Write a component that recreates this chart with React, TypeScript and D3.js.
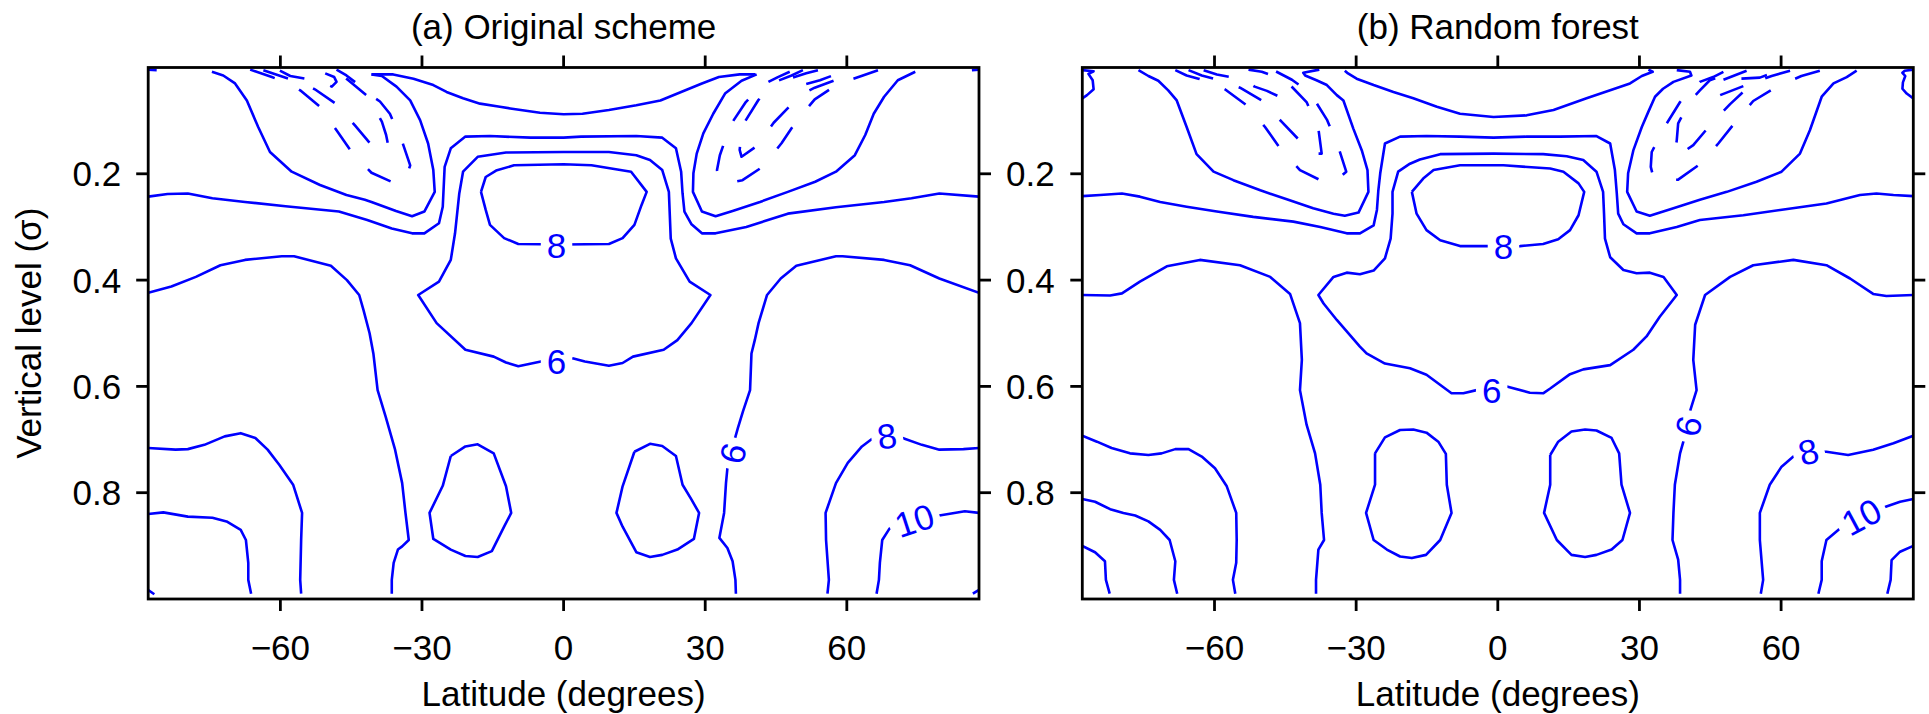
import React from "react";
import * as d3 from "d3";

type Pt = [number, number];
type Contour = { level: number; pts: Pt[] };
type Label = { text: string; lat: number; sigma: number; angle: number };

// Axis definitions
const latDomain: [number, number] = [-88, 88];
const sigmaDomain: [number, number] = [0, 1];
const latTicks = [-60, -30, 0, 30, 60];
const sigmaTicks = [0.2, 0.4, 0.6, 0.8];
const panelTitles = ["(a) Original scheme", "(b) Random forest"];
const xAxisTitle = "Latitude (degrees)";
const yAxisTitle = "Vertical level (\u03c3)";

// Contours of panel (a): [latitude, sigma] vertices; negative levels are dashed
const originalContours: Contour[] = [
  { level: 0, pts: [[-74.5,0.008],[-72.1,0.015],[-69.6,0.030],[-67.1,0.062],[-64.7,0.112],[-62.2,0.159],[-57.6,0.196],[-51.6,0.221],[-46.0,0.240],[-42.1,0.249],[-40.7,0.253],[-35.5,0.270],[-32.1,0.280],[-29.5,0.271],[-27.3,0.234],[-27.6,0.193],[-28.7,0.143],[-30.4,0.099],[-32.5,0.062],[-35.4,0.036],[-38.5,0.016],[-40.7,0.013]] },
  { level: 0, pts: [[40.9,0.013],[37.7,0.025],[34.2,0.049],[31.7,0.087],[29.6,0.124],[28.2,0.162],[27.5,0.199],[27.4,0.234],[29.3,0.271],[32.2,0.280],[35.8,0.270],[41.6,0.253],[47.5,0.234],[53.3,0.215],[57.7,0.196],[61.7,0.165],[63.9,0.127],[65.7,0.087],[67.9,0.055],[70.8,0.024],[74.5,0.008]] },
  { level: 2, pts: [[-40.7,0.013],[-36.1,0.013],[-31.8,0.021],[-27.6,0.033],[-24.8,0.046],[-21.3,0.058],[-17.7,0.068],[-13.5,0.074],[-11.3,0.077],[-5.0,0.085],[0,0.088],[4.0,0.087],[9.6,0.080],[15.4,0.071],[20.5,0.062],[24.9,0.046],[29.3,0.030],[32.9,0.018],[37.3,0.013],[40.6,0.013]] },
  { level: 4, pts: [[-88,0.243],[-83.9,0.238],[-79.6,0.237],[-74.4,0.246],[-67.5,0.253],[-58.9,0.261],[-47.6,0.271],[-41.6,0.287],[-36.4,0.303],[-32.1,0.312],[-29.5,0.312],[-26.4,0.293],[-25.6,0.262],[-25.2,0.187],[-23.9,0.152],[-20.8,0.130],[-15.6,0.129],[-7.0,0.132],[0,0.132],[3.7,0.130],[15.4,0.129],[20.9,0.132],[23.8,0.152],[24.9,0.196],[25.2,0.237],[25.6,0.271],[27.1,0.295],[29.3,0.312],[32.2,0.312],[38.7,0.300],[47.5,0.275],[57.7,0.263],[67.9,0.253],[73.7,0.246],[79.6,0.237],[88,0.243]] },
  { level: 6, pts: [[1.9,0.547],[4.5,0.553],[9.6,0.561],[12.5,0.556],[14.7,0.544],[21.2,0.531],[24.1,0.513],[27.1,0.481],[31.1,0.428],[26.7,0.403],[23.8,0.359],[22.7,0.322],[22.3,0.234],[20.9,0.193],[18.3,0.174],[15.4,0.165],[9.6,0.159],[0,0.159],[-12.2,0.160],[-18.2,0.168],[-21.3,0.196],[-22.1,0.237],[-23.0,0.312],[-23.9,0.362],[-26.4,0.403],[-30.8,0.428],[-26.9,0.481],[-20.8,0.531],[-14.8,0.544],[-12.2,0.555],[-9.6,0.562],[-4.8,0.553],[1.9,0.547]] },
  { level: 8, pts: [[-17.5,0.234],[-16.5,0.206],[-14.3,0.194],[-10.5,0.184],[0,0.182],[5.9,0.184],[14.3,0.196],[17.6,0.234],[16.5,0.259],[15.0,0.296],[12.5,0.321],[9.6,0.332],[0,0.333],[-9.6,0.332],[-12.6,0.321],[-15.6,0.296],[-16.5,0.268],[-17.5,0.234]] },
  { level: 6, pts: [[-88,0.424],[-83.1,0.412],[-77.9,0.394],[-72.7,0.372],[-67.5,0.362],[-59.7,0.355],[-57.1,0.355],[-49.3,0.373],[-45.9,0.400],[-43.3,0.428],[-42.4,0.456],[-41.1,0.500],[-40.3,0.538],[-39.4,0.607],[-37.7,0.657],[-35.7,0.719],[-34.2,0.782],[-33.5,0.838],[-32.8,0.889],[-34.2,0.901],[-35.1,0.907],[-36.0,0.932],[-36.4,0.964],[-36.4,0.990]] },
  { level: 6, pts: [[88,0.424],[79.6,0.397],[73.4,0.372],[67.9,0.362],[59.1,0.355],[57.7,0.355],[49.3,0.373],[46.0,0.397],[43.1,0.428],[41.3,0.481],[40.5,0.513],[39.8,0.538],[39.5,0.607],[38.0,0.647],[36.9,0.679],[36.2,0.701],[35.8,0.726],[34.7,0.754],[34.4,0.782],[34.0,0.838],[33.0,0.885],[34.7,0.904],[35.8,0.929],[36.4,0.964],[36.5,0.990]] },
  { level: 4, pts: [[-23.9,0.731],[-20.8,0.713],[-18.2,0.709],[-14.8,0.726],[-12.2,0.788],[-11.1,0.838],[-12.6,0.864],[-15.2,0.910],[-18.2,0.921],[-20.8,0.919],[-23.9,0.907],[-27.6,0.887],[-28.4,0.838],[-25.6,0.787],[-23.9,0.731]] },
  { level: 4, pts: [[15.0,0.723],[18.3,0.708],[20.9,0.712],[23.8,0.731],[25.2,0.785],[27.1,0.813],[28.7,0.838],[27.6,0.887],[24.1,0.907],[20.9,0.917],[18.3,0.921],[15.4,0.912],[12.5,0.864],[11.2,0.838],[12.5,0.788],[15.0,0.723]] },
  { level: 8, pts: [[-88,0.716],[-82.2,0.719],[-79.6,0.718],[-76.1,0.710],[-71.8,0.694],[-68.4,0.688],[-65.3,0.697],[-62.7,0.719],[-60.2,0.748],[-57.3,0.785],[-55.4,0.838],[-55.6,0.889],[-55.8,0.964],[-55.6,0.990]] },
  { level: 8, pts: [[88,0.716],[84.7,0.718],[79.6,0.719],[75.9,0.710],[71.5,0.696],[68.5,0.693],[65.3,0.699],[63.2,0.713],[60.2,0.744],[57.7,0.782],[55.5,0.838],[55.6,0.889],[56.2,0.964],[55.9,0.990]] },
  { level: 10, pts: [[-88,0.840],[-84.8,0.837],[-79.6,0.845],[-74.4,0.847],[-71.4,0.854],[-68.4,0.870],[-67.3,0.889],[-66.8,0.932],[-66.8,0.964],[-66.2,0.990]] },
  { level: 10, pts: [[88,0.838],[85.0,0.835],[79.6,0.843],[74.3,0.852],[69.0,0.868],[67.5,0.889],[67.0,0.932],[66.8,0.964],[66.3,0.990]] },
  { level: 12, pts: [[-88,0.983],[-86.7,0.991]] },
  { level: 12, pts: [[86.7,0.990],[88,0.983]] },
  { level: 2, pts: [[-88,0.004],[-86.2,0.005]] },
  { level: 2, pts: [[86.5,0.005],[88,0.004]] },
  { level: -2, pts: [[-66.4,0.004],[-61.5,0.019],[-57.9,0.031],[-55.8,0.043],[-51.6,0.074],[-48.1,0.118],[-44.9,0.159],[-42.8,0.179],[-40.7,0.198],[-35.7,0.218],[-33.3,0.206],[-32.5,0.184],[-34.3,0.137],[-35.7,0.109],[-36.8,0.087],[-38.9,0.064],[-41.4,0.049],[-43.8,0.030],[-46.0,0.015],[-48.1,0.004]] },
  { level: -4, pts: [[-63.6,0.005],[-58.3,0.021],[-54.8,0.031],[-52.7,0.041],[-48.1,0.069],[-44.2,0.109],[-40.7,0.146],[-38.9,0.157],[-37.1,0.149],[-37.6,0.127],[-38.5,0.102],[-41.4,0.055],[-45.6,0.024],[-47.4,0.011]] },
  { level: -6, pts: [[-60.1,0.006],[-57.9,0.016],[-54.8,0.021],[-51.6,0.026],[-49.1,0.036],[-48.1,0.027],[-48.6,0.018],[-50.5,0.011]] },
  { level: -2, pts: [[66.6,0.005],[63.4,0.015],[60.5,0.024],[57.8,0.033],[53.2,0.060],[49.3,0.101],[46.2,0.142],[42.3,0.186],[37.9,0.212],[34.9,0.217],[32.7,0.206],[32.5,0.193],[33.1,0.165],[34.2,0.137],[35.6,0.105],[38.6,0.065],[40.9,0.044],[43.0,0.029],[45.4,0.018],[47.9,0.008]] },
  { level: -4, pts: [[50.7,0.005],[48.3,0.015],[45.4,0.025],[43.3,0.040],[41.2,0.062],[38.4,0.102],[37.5,0.137],[37.3,0.155],[37.7,0.168],[40.9,0.148],[42.6,0.127],[44.5,0.104],[48.4,0.068],[51.4,0.046],[53.2,0.038],[57.8,0.023]] },
  { level: -6, pts: [[48.6,0.019],[51.4,0.011],[53.9,0.005]] },
  { level: -6, pts: [[51.4,0.031],[54.3,0.024],[56.7,0.016]] },
];

const originalLabels: Label[] = [
  { text: "8", lat: -1.5, sigma: 0.334, angle: 0 },
  { text: "6", lat: -1.5, sigma: 0.553, angle: 0 },
  { text: "6", lat: 35.8, sigma: 0.726, angle: -75 },
  { text: "8", lat: 68.5, sigma: 0.693, angle: -8 },
  { text: "10", lat: 74.3, sigma: 0.852, angle: -18 },
];

// Contours of panel (b)
const forestContours: Contour[] = [
  { level: 0, pts: [[-76.1,0.005],[-74.0,0.016],[-71.9,0.025],[-69.8,0.043],[-68.0,0.062],[-65.9,0.112],[-63.8,0.163],[-60.2,0.196],[-56.0,0.212],[-50.3,0.231],[-44.7,0.248],[-39.1,0.265],[-34.8,0.275],[-32.4,0.279],[-29.5,0.273],[-27.4,0.234],[-27.6,0.193],[-28.8,0.156],[-30.6,0.115],[-32.7,0.062],[-34.1,0.052],[-36.2,0.033],[-38.4,0.024],[-40.8,0.015],[-41.2,0.010],[-37.8,0.004]] },
  { level: 0, pts: [[37.9,0.005],[40.7,0.008],[41.0,0.015],[37.2,0.027],[35.0,0.040],[33.3,0.055],[31.9,0.083],[30.5,0.112],[28.7,0.156],[27.6,0.199],[27.4,0.234],[29.4,0.271],[32.2,0.279],[37.2,0.265],[42.8,0.249],[48.5,0.234],[54.8,0.215],[60.1,0.196],[64.0,0.162],[66.1,0.118],[68.6,0.055],[71.1,0.030],[73.9,0.018],[76.0,0.006]] },
  { level: 2, pts: [[-32.4,0.006],[-31.9,0.010],[-29.9,0.021],[-26.3,0.033],[-22.1,0.046],[-17.9,0.058],[-12.9,0.074],[-8.0,0.087],[-0.9,0.093],[6.1,0.090],[11.8,0.080],[18.8,0.058],[23.8,0.043],[28.0,0.030],[30.5,0.016],[32.8,0.008],[31.9,0.004]] },
  { level: 4, pts: [[-88,0.242],[-84.2,0.240],[-79.6,0.237],[-75.8,0.243],[-71.5,0.253],[-65.9,0.262],[-59.5,0.271],[-51.8,0.281],[-43.3,0.290],[-37.6,0.300],[-32.0,0.312],[-29.2,0.312],[-26.3,0.297],[-25.6,0.268],[-25.3,0.231],[-24.9,0.199],[-23.9,0.143],[-20.7,0.130],[-15.1,0.129],[-8.0,0.130],[-0.9,0.132],[6.1,0.130],[13.2,0.130],[20.9,0.129],[23.8,0.143],[24.8,0.193],[25.2,0.237],[25.5,0.275],[26.6,0.295],[29.4,0.312],[32.2,0.312],[37.9,0.300],[42.8,0.287],[52.0,0.278],[59.8,0.268],[69.6,0.256],[76.7,0.240],[80.2,0.237],[83.8,0.240],[88,0.242]] },
  { level: 8, pts: [[-18.2,0.234],[-17.2,0.275],[-15.1,0.306],[-12.2,0.325],[-8.0,0.336],[-1.6,0.336],[1.2,0.337],[4.7,0.336],[9.6,0.332],[12.8,0.323],[15.3,0.306],[17.1,0.278],[18.3,0.234],[17.1,0.218],[13.9,0.196],[11.1,0.190],[1.2,0.184],[-8.0,0.184],[-13.6,0.193],[-15.8,0.209],[-18.2,0.234]] },
  { level: 6, pts: [[1.9,0.600],[6.8,0.612],[9.6,0.613],[11.1,0.604],[15.3,0.577],[18.1,0.568],[23.8,0.560],[28.7,0.531],[31.5,0.506],[34.3,0.469],[37.9,0.428],[35.1,0.394],[32.2,0.386],[29.4,0.387],[26.6,0.381],[23.8,0.357],[22.7,0.322],[22.5,0.275],[22.3,0.234],[20.9,0.196],[18.1,0.174],[14.6,0.167],[9.6,0.163],[-0.9,0.162],[-12.2,0.163],[-16.5,0.173],[-18.6,0.181],[-21.1,0.196],[-22.3,0.234],[-22.3,0.275],[-22.7,0.322],[-23.9,0.359],[-26.3,0.382],[-29.2,0.389],[-32.0,0.386],[-34.8,0.394],[-38.0,0.428],[-36.9,0.444],[-34.1,0.475],[-29.2,0.525],[-27.8,0.538],[-23.9,0.557],[-18.6,0.566],[-15.1,0.578],[-9.8,0.613],[-7.3,0.613],[-4.5,0.607],[1.9,0.600]] },
  { level: 6, pts: [[-88,0.428],[-82.1,0.429],[-79.6,0.425],[-75.8,0.403],[-70.1,0.374],[-63.1,0.362],[-54.6,0.372],[-48.2,0.394],[-44.0,0.426],[-41.9,0.481],[-41.5,0.550],[-41.9,0.607],[-40.5,0.672],[-38.7,0.726],[-37.6,0.785],[-37.3,0.838],[-36.8,0.889],[-38.0,0.907],[-38.5,0.964],[-38.5,0.990]] },
  { level: 6, pts: [[88,0.428],[82.3,0.430],[79.5,0.426],[74.6,0.397],[69.6,0.372],[62.6,0.362],[54.1,0.372],[49.2,0.394],[43.9,0.428],[41.8,0.484],[41.4,0.550],[42.1,0.607],[40.7,0.647],[40.3,0.676],[39.3,0.704],[38.6,0.726],[37.5,0.785],[37.2,0.838],[37.0,0.889],[38.2,0.926],[38.6,0.964],[38.6,0.990]] },
  { level: 4, pts: [[-26.0,0.726],[-23.9,0.696],[-20.7,0.682],[-17.9,0.681],[-15.1,0.687],[-12.6,0.704],[-11.0,0.727],[-10.8,0.785],[-9.8,0.838],[-12.2,0.889],[-15.2,0.917],[-18.2,0.923],[-20.7,0.920],[-23.5,0.907],[-26.3,0.889],[-27.9,0.838],[-26.0,0.785],[-26.0,0.726]] },
  { level: 4, pts: [[11.1,0.729],[12.8,0.704],[15.6,0.685],[18.5,0.681],[20.9,0.683],[24.1,0.697],[25.7,0.726],[26.2,0.785],[28.0,0.838],[26.4,0.889],[24.1,0.907],[20.9,0.917],[18.5,0.921],[15.6,0.917],[12.5,0.889],[9.8,0.838],[11.1,0.785],[11.1,0.729]] },
  { level: 8, pts: [[-88,0.693],[-84.9,0.704],[-81.8,0.716],[-77.9,0.726],[-74.0,0.729],[-71.2,0.726],[-68.3,0.718],[-65.5,0.718],[-62.7,0.732],[-59.9,0.754],[-57.4,0.788],[-55.4,0.838],[-55.3,0.889],[-55.4,0.932],[-56.1,0.964],[-55.6,0.990]] },
  { level: 8, pts: [[88,0.693],[83.8,0.707],[79.5,0.719],[74.2,0.729],[69.6,0.723],[65.8,0.723],[62.6,0.732],[60.1,0.751],[57.6,0.785],[55.5,0.838],[55.5,0.889],[56.2,0.964],[55.7,0.990]] },
  { level: 10, pts: [[-88,0.812],[-85.3,0.817],[-82.1,0.831],[-79.3,0.838],[-76.8,0.843],[-74.0,0.854],[-71.5,0.870],[-69.5,0.889],[-68.3,0.929],[-68.6,0.964],[-67.9,0.990]] },
  { level: 10, pts: [[88,0.812],[85.2,0.817],[82.3,0.826],[77.0,0.845],[72.1,0.870],[69.6,0.889],[68.6,0.929],[68.6,0.964],[67.9,0.990]] },
  { level: 12, pts: [[-88,0.900],[-85.3,0.912],[-83.2,0.929],[-83.0,0.964],[-82.2,0.990]] },
  { level: 12, pts: [[88,0.900],[85.2,0.911],[83.4,0.927],[83.2,0.964],[82.5,0.990]] },
  { level: 2, pts: [[-88,0.005],[-85.6,0.007],[-86.7,0.012],[-85.8,0.024],[-85.6,0.041],[-87.0,0.052],[-88,0.058]] },
  { level: 2, pts: [[88,0.004],[86.2,0.006],[85.7,0.010],[86.3,0.016],[85.8,0.028],[85.7,0.040],[86.6,0.049],[88,0.058]] },
  { level: -2, pts: [[-68.3,0.005],[-65.9,0.015],[-63.4,0.021],[-60.2,0.030],[-57.8,0.041],[-53.2,0.071],[-49.3,0.112],[-46.1,0.152],[-41.9,0.193],[-36.9,0.215],[-34.1,0.212],[-32.1,0.196],[-33.8,0.149],[-36.2,0.098],[-39.1,0.057],[-40.5,0.043],[-43.6,0.023],[-47.5,0.005]] },
  { level: -4, pts: [[-65.5,0.005],[-62.7,0.015],[-60.2,0.021],[-54.6,0.038],[-50.0,0.062],[-45.8,0.102],[-41.9,0.138],[-39.1,0.162],[-37.3,0.162],[-38.0,0.115],[-40.5,0.065],[-44.3,0.030],[-46.8,0.018],[-50.0,0.008],[-52.8,0.004]] },
  { level: -6, pts: [[-62.3,0.005],[-59.5,0.013],[-56.7,0.018],[-54.0,0.021],[-51.5,0.036],[-48.9,0.044],[-46.5,0.054]] },
  { level: -2, pts: [[68.2,0.006],[64.3,0.016],[58.7,0.038],[54.1,0.063],[50.2,0.104],[46.7,0.143],[42.8,0.182],[38.2,0.211],[35.1,0.212],[32.8,0.201],[32.4,0.187],[32.6,0.159],[34.3,0.130],[35.8,0.105],[38.6,0.065],[40.7,0.043],[42.8,0.027],[45.6,0.018],[47.8,0.008]] },
  { level: -4, pts: [[61.9,0.006],[58.0,0.016],[55.5,0.024],[52.7,0.040],[49.2,0.069],[45.6,0.102],[41.4,0.146],[38.2,0.166],[37.5,0.163],[37.9,0.137],[38.2,0.105],[40.7,0.063],[42.8,0.043],[44.9,0.024],[48.5,0.013],[50.6,0.006]] },
  { level: -6, pts: [[47.8,0.023],[52.7,0.006]] },
  { level: -6, pts: [[51.6,0.021],[55.5,0.019],[58.3,0.010]] },
  { level: -6, pts: [[47.1,0.052],[52.0,0.035]] },
];

const forestLabels: Label[] = [
  { text: "8", lat: 1.2, sigma: 0.337, angle: 0 },
  { text: "6", lat: -1.3, sigma: 0.607, angle: 0 },
  { text: "6", lat: 40.3, sigma: 0.675, angle: -77 },
  { text: "8", lat: 65.8, sigma: 0.7225, angle: -15 },
  { text: "10", lat: 77.0, sigma: 0.845, angle: -28 },
];

const WIDTH = 1929;
const HEIGHT = 714;
const TOP = 67.5;
const BOTTOM = 599;
const FONT = "'Liberation Sans', Arial, Helvetica, sans-serif";
const FS = 35;
const LABEL_FS = 35;
const BLUE = "#0000ff";
const TICK = 12;

const fmtLat = (t: number) => (t < 0 ? "\u2212" + Math.abs(t) : String(t));
const fmtSigma = d3.format(".1f");

type PanelProps = {
  id: string;
  left: number;
  right: number;
  title: string;
  contours: Contour[];
  labels: Label[];
  leftLabels: boolean;
  rightLabels: boolean;
};

function Panel({ id, left, right, title, contours, labels, leftLabels, rightLabels }: PanelProps) {
  const x = d3.scaleLinear().domain(latDomain).range([left, right]);
  const y = d3.scaleLinear().domain(sigmaDomain).range([TOP, BOTTOM]);
  const line = d3
    .line<Pt>()
    .x((d) => x(d[0]))
    .y((d) => y(d[1]));
  const cx = (left + right) / 2;

  return (
    <g>
      <defs>
        <clipPath id={`clip-${id}`}>
          <rect x={left} y={TOP} width={right - left} height={BOTTOM - TOP} />
        </clipPath>
      </defs>
      <g clipPath={`url(#clip-${id})`}>
        {contours.map((c, i) => (
          <path
            key={i}
            d={line(c.pts) || ""}
            fill="none"
            stroke={BLUE}
            strokeWidth={2.6}
            strokeLinejoin="round"
            strokeDasharray={c.level < 0 ? "26 27" : undefined}
          />
        ))}
        {labels.map((l, i) => {
          const w = l.text.length * 0.556 * LABEL_FS + 12;
          const h = 26;
          return (
            <g key={`lab${i}`} transform={`translate(${x(l.lat)},${y(l.sigma)}) rotate(${l.angle})`}>
              <rect x={-w / 2} y={-h / 2} width={w} height={h} fill="white" />
              <text
                textAnchor="middle"
                dy="0.36em"
                fontSize={LABEL_FS}
                fontFamily={FONT}
                fill={BLUE}
              >
                {l.text}
              </text>
            </g>
          );
        })}
      </g>
      <rect x={left} y={TOP} width={right - left} height={BOTTOM - TOP} fill="none" stroke="black" strokeWidth={2.8} />
      {latTicks.map((t) => (
        <g key={`lt${t}`}>
          <line x1={x(t)} x2={x(t)} y1={TOP} y2={TOP - TICK} stroke="black" strokeWidth={2.8} />
          <line x1={x(t)} x2={x(t)} y1={BOTTOM} y2={BOTTOM + TICK} stroke="black" strokeWidth={2.8} />
          <text x={x(t)} y={660} textAnchor="middle" fontSize={FS} fontFamily={FONT}>
            {fmtLat(t)}
          </text>
        </g>
      ))}
      {sigmaTicks.map((t) => (
        <g key={`st${t}`}>
          <line x1={left} x2={left - TICK} y1={y(t)} y2={y(t)} stroke="black" strokeWidth={2.8} />
          <line x1={right} x2={right + TICK} y1={y(t)} y2={y(t)} stroke="black" strokeWidth={2.8} />
          {leftLabels && (
            <text x={left - 27} y={y(t)} dy="0.36em" textAnchor="end" fontSize={FS} fontFamily={FONT}>
              {fmtSigma(t)}
            </text>
          )}
          {rightLabels && (
            <text x={right + 27} y={y(t)} dy="0.36em" textAnchor="start" fontSize={FS} fontFamily={FONT}>
              {fmtSigma(t)}
            </text>
          )}
        </g>
      ))}
      <text x={cx} y={39} textAnchor="middle" fontSize={FS} fontFamily={FONT}>
        {title}
      </text>
      <text x={cx} y={706} textAnchor="middle" fontSize={FS} fontFamily={FONT}>
        {xAxisTitle}
      </text>
    </g>
  );
}

export default function App() {
  return (
    <svg
      width={WIDTH}
      height={HEIGHT}
      viewBox={`0 0 ${WIDTH} ${HEIGHT}`}
      style={{ position: "absolute", left: 0, top: 0, background: "white", display: "block" }}
    >
      <rect x={0} y={0} width={WIDTH} height={HEIGHT} fill="white" />
      <Panel
        id="a"
        left={148.2}
        right={979}
        title={panelTitles[0]}
        contours={originalContours}
        labels={originalLabels}
        leftLabels={true}
        rightLabels={true}
      />
      <Panel
        id="b"
        left={1082.3}
        right={1913.3}
        title={panelTitles[1]}
        contours={forestContours}
        labels={forestLabels}
        leftLabels={false}
        rightLabels={false}
      />
      <text
        transform={`translate(41,${(TOP + BOTTOM) / 2}) rotate(-90)`}
        textAnchor="middle"
        fontSize={FS}
        fontFamily={FONT}
      >
        {yAxisTitle}
      </text>
    </svg>
  );
}
